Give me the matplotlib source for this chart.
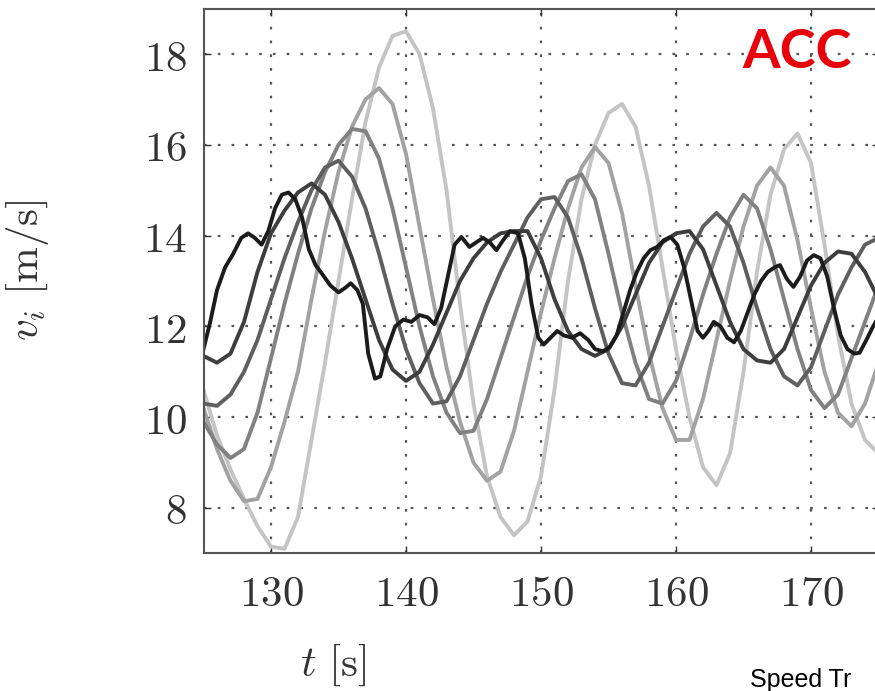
import matplotlib
matplotlib.use("Agg")
import matplotlib.pyplot as plt

plt.rcParams["mathtext.fontset"] = "cm"

# leader speed (noisy, own time stamps)
t_lead = [125.0, 125.5, 126.0, 126.6, 127.2, 127.8, 128.3, 128.8, 129.3, 129.8,
          130.3, 130.8, 131.3, 131.8, 132.3, 132.8, 133.3, 133.8, 134.4, 135.0,
          135.5, 135.9, 136.4, 136.8, 137.2, 137.7, 138.1, 138.6, 139.2, 139.8,
          140.4, 141.0, 141.6, 142.1, 142.6, 143.1, 143.6, 144.1, 144.7, 145.2,
          145.7, 146.2, 146.7, 147.2, 147.7, 148.3, 148.8, 149.3, 149.8, 150.2,
          150.7, 151.2, 151.7, 152.3, 152.9, 153.5, 154.0, 154.6, 155.1, 155.6,
          156.1, 156.6, 157.1, 157.6, 158.1, 158.6, 159.1, 159.6, 160.1, 160.6,
          161.1, 161.6, 162.0, 162.4, 162.8, 163.3, 163.8, 164.3, 164.8, 165.3,
          165.8, 166.3, 166.8, 167.3, 167.7, 168.2, 168.7, 169.2, 169.7, 170.2,
          170.7, 171.2, 171.7, 172.2, 172.7, 173.2, 173.6, 174.1, 174.6, 175.0]
v_lead = [11.5, 12.1, 12.8, 13.3, 13.6, 13.95, 14.05, 13.95, 13.8, 14.1,
          14.6, 14.9, 14.95, 14.8, 14.4, 13.7, 13.35, 13.15, 12.9, 12.75,
          12.85, 12.95, 12.8, 12.5, 11.4, 10.85, 10.9, 11.5, 12.0, 12.15,
          12.1, 12.25, 12.2, 12.05, 12.4, 13.1, 13.8, 13.97, 13.75, 13.85,
          13.95, 13.85, 13.68, 13.9, 14.1, 14.05, 13.5, 12.5, 11.75, 11.6,
          11.75, 11.9, 11.8, 11.75, 11.85, 11.7, 11.5, 11.45, 11.55, 11.8,
          12.3, 12.8, 13.2, 13.5, 13.68, 13.75, 13.9, 13.97, 13.8, 13.3,
          12.6, 11.9, 11.75, 11.9, 12.1, 12.0, 11.75, 11.65, 11.9, 12.3,
          12.7, 13.0, 13.2, 13.3, 13.35, 13.05, 12.87, 13.1, 13.45, 13.57,
          13.5, 13.1, 12.4, 11.8, 11.5, 11.4, 11.42, 11.7, 12.0, 12.2]

# followers, sampled every second from 125 s to 175 s
t = list(range(125, 176))
v_f1 = [11.35, 11.2, 11.4, 12.1, 13.2, 14.05, 14.55, 14.95, 15.15, 14.9,
        14.3, 13.5, 12.6, 11.7, 11.05, 10.8, 11.0, 11.6, 12.3, 13.0,
        13.5, 13.85, 14.05, 14.1, 14.1, 13.5, 12.6, 11.9, 11.5, 11.35,
        11.5, 12.0, 12.7, 13.4, 13.85, 14.05, 14.1, 13.7, 12.9, 12.1,
        11.5, 11.25, 11.2, 11.5, 12.2, 12.9, 13.4, 13.65, 13.6, 13.2,
        12.6]
v_f2 = [10.3, 10.25, 10.5, 11.0, 11.7, 12.6, 13.5, 14.3, 15.0, 15.5,
        15.65, 15.3, 14.6, 13.6, 12.5, 11.5, 10.75, 10.3, 10.35, 10.9,
        11.7, 12.5, 13.2, 13.8, 14.4, 14.8, 14.85, 14.4, 13.5, 12.4,
        11.4, 10.75, 10.7, 11.2, 12.0, 12.8, 13.6, 14.2, 14.5, 14.2,
        13.4, 12.4, 11.5, 10.9, 10.7, 11.1, 11.9, 12.7, 13.3, 13.8,
        13.95]
v_f3 = [9.9, 9.4, 9.1, 9.3, 10.1, 11.3, 12.5, 13.6, 14.6, 15.4,
        16.0, 16.35, 16.3, 15.7, 14.6, 13.3, 12.0, 10.9, 10.1, 9.65,
        9.7, 10.4, 11.3, 12.2, 13.1, 13.9, 14.6, 15.2, 15.35, 14.8,
        13.6, 12.3, 11.2, 10.4, 10.3, 10.8, 11.7, 12.7, 13.6, 14.4,
        14.9, 14.6, 13.7, 12.6, 11.5, 10.6, 10.2, 10.5, 11.3, 12.1,
        12.9]
v_f4 = [10.2, 9.3, 8.6, 8.15, 8.2, 8.9, 9.9, 11.0, 12.6, 14.1,
        15.4, 16.4, 17.0, 17.25, 16.9, 15.8, 14.2, 12.6, 11.1, 9.9,
        9.0, 8.6, 8.8, 9.7, 11.0, 12.3, 13.5, 14.6, 15.5, 15.95,
        15.6, 14.5, 12.9, 11.4, 10.2, 9.5, 9.5, 10.4, 11.7, 13.0,
        14.2, 15.1, 15.5, 15.1, 13.9, 12.4, 11.0, 10.1, 9.8, 10.3,
        11.2]
v_f5 = [10.6, 9.6, 8.85, 8.2, 7.6, 7.15, 7.1, 7.8, 9.5, 11.2,
        13.0, 14.8, 16.5, 17.7, 18.4, 18.5, 18.0, 16.8, 15.0, 12.5,
        10.3, 8.7, 7.8, 7.4, 7.7, 8.7, 10.6, 13.0, 14.8, 16.0,
        16.7, 16.9, 16.4, 15.1, 13.3, 11.5, 10.0, 8.9, 8.5, 9.2,
        11.0, 13.2, 14.9, 15.9, 16.25, 15.6, 13.8, 11.8, 10.3, 9.5,
        9.2]

followers = [v_f5, v_f4, v_f3, v_f2, v_f1]
greys = ["#c4c4c4", "#a2a2a2", "#818181", "#5f5f5f", "#3e3e3e"]

x_ticks = [130, 140, 150, 160, 170]
y_ticks = [8, 10, 12, 14, 16, 18]

fig = plt.figure(figsize=(8.75, 6.91), dpi=100)
ax = fig.add_axes([203.5 / 875, 137.6 / 691, 675 / 875, 544.8 / 691])

for v, c in zip(followers, greys):
    ax.plot(t, v, color=c, lw=2.8, solid_joinstyle="round")
ax.plot(t_lead, v_lead, color="#1c1c1c", lw=2.8, solid_joinstyle="round")

ax.set_xlim(125, 175)
ax.set_ylim(7, 19)
ax.set_xticks(x_ticks, ["$%d$" % x for x in x_ticks])
ax.set_yticks(y_ticks, ["$%d$" % y for y in y_ticks])
ax.tick_params(direction="in", length=5, width=1, colors="#333333",
               top=True, right=True, labelsize=31)
ax.tick_params(axis="x", pad=14)
ax.tick_params(axis="y", pad=12)
ax.grid(True, color="#555555", linestyle=(0, (1.2, 5.0)), linewidth=1.6)
ax.set_axisbelow(True)
for s in ax.spines.values():
    s.set_color("#555555")
    s.set_linewidth(1.5)

ax.set_xlabel(r"$t\ [\mathrm{s}]$", fontsize=31, color="#333333")
ax.xaxis.set_label_coords(0.192, -0.163)
ax.set_ylabel(r"$v_i\ [\mathrm{m/s}]$", fontsize=31, color="#333333")
ax.yaxis.set_label_coords(-0.226, 0.52)

fig.text(797 / 875, 1 - 52 / 691, "ACC", color="#e8000b", fontsize=39,
         fontweight="bold", family="Lato", ha="center", va="center")
fig.text(750 / 875, 4 / 691, "Speed Tr", fontsize=18,
         family="Liberation Sans", ha="left", va="baseline")

fig.savefig("out.png", dpi=100)
